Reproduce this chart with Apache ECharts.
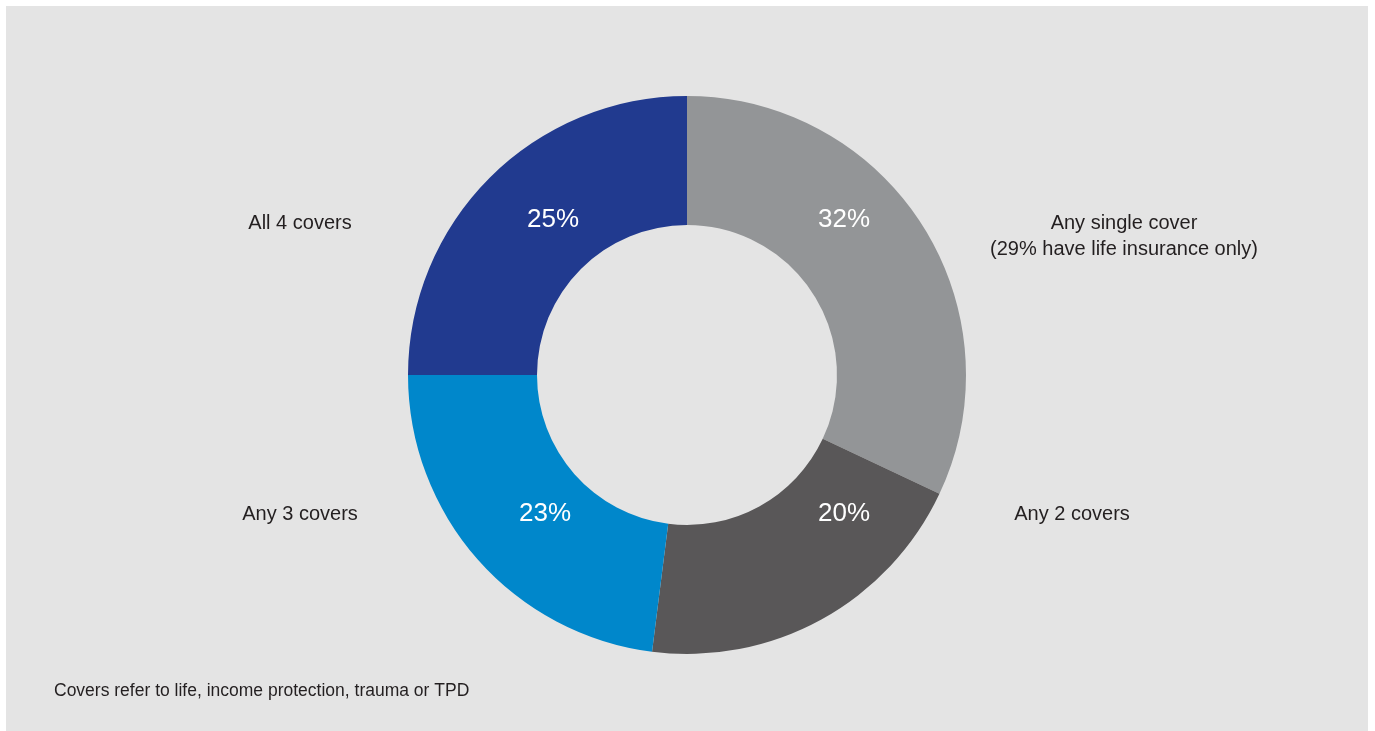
<!DOCTYPE html>
<html>
<head>
<meta charset="utf-8">
<title>Insurance covers held</title>
<script src="https://cdn.jsdelivr.net/npm/echarts@6/dist/echarts.min.js"></script>
<style>
  html, body { margin: 0; padding: 0; background: #ffffff; }
  #chart { position: absolute; left: 6px; top: 6px; width: 1362px; height: 725px; }
</style>
</head>
<body>
<div id="chart"></div>
<script>
// Share of people by number of insurance covers held
const categories = ['Any single cover', 'Any 2 covers', 'Any 3 covers', 'All 4 covers'];
const shares = [32, 20, 23, 25];
const subNotes = ['(29% have life insurance only)', '', '', ''];
const sliceColors = ['#939597', '#595758', '#0087cb', '#213a8f'];
const footnote = 'Covers refer to life, income protection, trauma or TPD';

const FONT = '"Liberation Sans", Arial, Helvetica, sans-serif';
const TEXT = '#231f20';
const CX = 681, CY = 369;          // donut centre inside the panel
const R_IN = 150, R_OUT = 279;

// percentage labels sit in each quadrant of the ring
const pctOffsets = [[157, -155], [157, 139], [-142, 139], [-134, -155]];
// category names placed beside the ring
const namePos = [[1118, 230], [1066, 508], [294, 508], [294, 217]];

const chart = echarts.init(document.getElementById('chart'), null, { renderer: 'canvas' });

const nameTexts = categories.map((c, i) => ({
  type: 'text',
  x: namePos[i][0],
  y: namePos[i][1],
  style: {
    text: subNotes[i] ? c + '\n' + subNotes[i] : c,
    font: '20px ' + FONT,
    fill: TEXT,
    align: 'center',
    verticalAlign: 'middle',
    lineHeight: 26
  },
  silent: true
}));

chart.setOption({
  animation: false,
  backgroundColor: '#e4e4e4',
  color: sliceColors,
  graphic: nameTexts.concat([{
    type: 'text',
    left: 48,
    top: 676,
    style: { text: footnote, font: '17.5px ' + FONT, fill: TEXT },
    silent: true
  }]),
  series: [{
    type: 'pie',
    center: [CX, CY],
    radius: [R_IN, R_OUT],
    startAngle: 90,
    clockwise: true,
    silent: true,
    itemStyle: { borderWidth: 0 },
    label: {
      show: true,
      position: 'inside',
      formatter: '{c}%',
      color: '#ffffff',
      fontFamily: FONT,
      fontSize: 26
    },
    labelLine: { show: false },
    labelLayout: (p) => ({
      x: CX + pctOffsets[p.dataIndex][0],
      y: CY + pctOffsets[p.dataIndex][1],
      align: 'center',
      verticalAlign: 'middle'
    }),
    data: categories.map((c, i) => ({ name: c, value: shares[i] }))
  }]
});
</script>
</body>
</html>
